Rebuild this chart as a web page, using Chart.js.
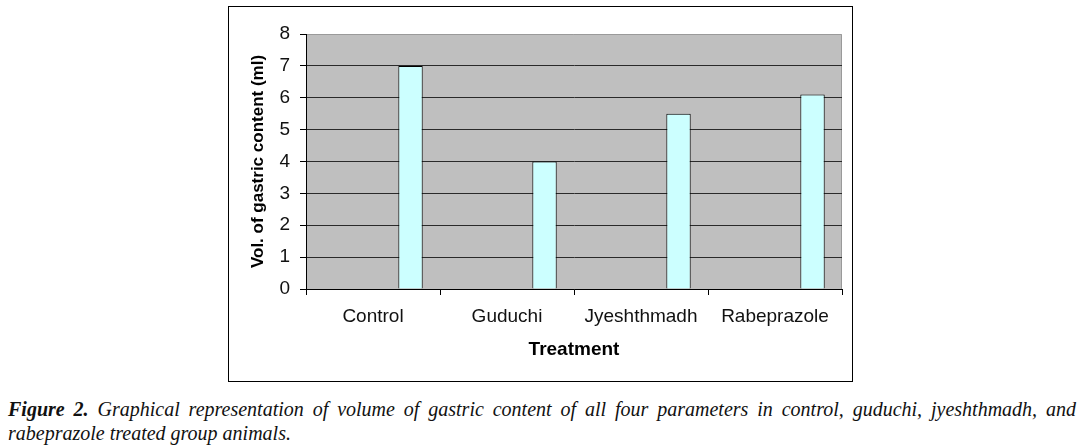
<!DOCTYPE html>
<html>
<head>
<meta charset="utf-8">
<style>
  body { margin: 0; background: #fff; width: 1080px; height: 447px; position: relative; overflow: hidden; }
  #marco {
    position: absolute; left: 228px; top: 6px; width: 625px; height: 376px;
    box-sizing: border-box; border: 1px solid #000;
  }
  #grafico { position: absolute; left: 0; top: 0; }
  #pie {
    position: absolute; left: 8px; top: 397px; width: 1068px;
    font-family: "Liberation Serif", "DejaVu Serif", serif; font-style: italic;
    font-size: 20px; line-height: 24px; color: #111;
  }
  #pie .l1 { text-align: justify; text-align-last: justify; white-space: nowrap; }
</style>
</head>
<body>
<div id="marco"><canvas id="grafico" width="623" height="374"></canvas></div>
<div id="pie">
  <div class="l1"><b>Figure 2.</b> Graphical representation of volume of gastric content of all four parameters in control, guduchi, jyeshthmadh, and</div>
  <div>rabeprazole treated group animals.</div>
</div>

<script src="https://cdn.jsdelivr.net/npm/chart.js"></script>
<script>
  // Datos
  const categorias = ['Control', 'Guduchi', 'Jyeshthmadh', 'Rabeprazole'];
  const volumen    = [7, 4, 5.5, 6.1];
  const vacio      = [null, null, null, null];   // series vacías de Excel (ocupan hueco)
  const ticksY     = [0, 1, 2, 3, 4, 5, 6, 7, 8];

  const fuente = 'Arial, "Liberation Sans"';

  // fondo gris y borde del área de trazado
  const fondoPlot = {
    id: 'fondoPlot',
    beforeDraw(chart) {
      const { ctx, chartArea: a } = chart;
      ctx.save();
      ctx.fillStyle = '#bfbfbf';
      ctx.fillRect(a.left, a.top, a.right - a.left, a.bottom - a.top);
      ctx.strokeStyle = '#9a9a9a';
      ctx.lineWidth = 1;
      ctx.beginPath();
      ctx.moveTo(a.left, a.top + 0.5);
      ctx.lineTo(a.right - 0.5, a.top + 0.5);
      ctx.lineTo(a.right - 0.5, a.bottom);
      ctx.stroke();
      ctx.restore();
    }
  };

  const barra = {
    backgroundColor: '#ccffff',
    borderColor: '#000',
    borderWidth: 1,
    categoryPercentage: 0.84,
    barPercentage: 0.65
  };

  new Chart(document.getElementById('grafico'), {
    type: 'bar',
    data: {
      labels: categorias,
      datasets: [
        { ...barra, label: 'a', data: vacio },
        { ...barra, label: 'b', data: vacio },
        { ...barra, label: 'Vol.', data: volumen }
      ]
    },
    plugins: [fondoPlot],
    options: {
      responsive: false,
      animation: false,
      layout: { padding: { left: 0, top: 27, right: 10, bottom: 0 } },
      plugins: { legend: { display: false }, tooltip: { enabled: false } },
      scales: {
        x: {
          grid: { display: true, drawOnChartArea: false, color: '#000', tickLength: 6, offset: true },
          border: { color: '#000', width: 1 },
          ticks: { color: '#111', padding: 10, maxRotation: 0, font: { family: fuente, size: 19 } },
          title: {
            display: true, text: 'Treatment', color: '#000',
            font: { family: fuente, size: 19, weight: 'bold' },
            padding: { top: 0, bottom: 20 }
          },
          afterFit: s => { s.height = 92; }
        },
        y: {
          min: 0, max: 8,
          afterBuildTicks: s => { s.ticks = ticksY.map(v => ({ value: v })); },
          grid: {
            color: c => (c.tick && c.tick.value === 8 ? 'rgba(0,0,0,0)' : '#2a2a2a'),
            tickColor: '#000', tickLength: 6, lineWidth: 1
          },
          border: { color: '#000', width: 1 },
          ticks: { color: '#111', padding: 10, font: { family: fuente, size: 19 } },
          title: {
            display: true, text: 'Vol. of gastric content (ml)', color: '#000',
            font: { family: fuente, size: 17, weight: 'bold' },
            padding: { top: 19, bottom: 0 }
          },
          afterFit: s => { s.width = 77; }
        }
      }
    }
  });
</script>
</body>
</html>
